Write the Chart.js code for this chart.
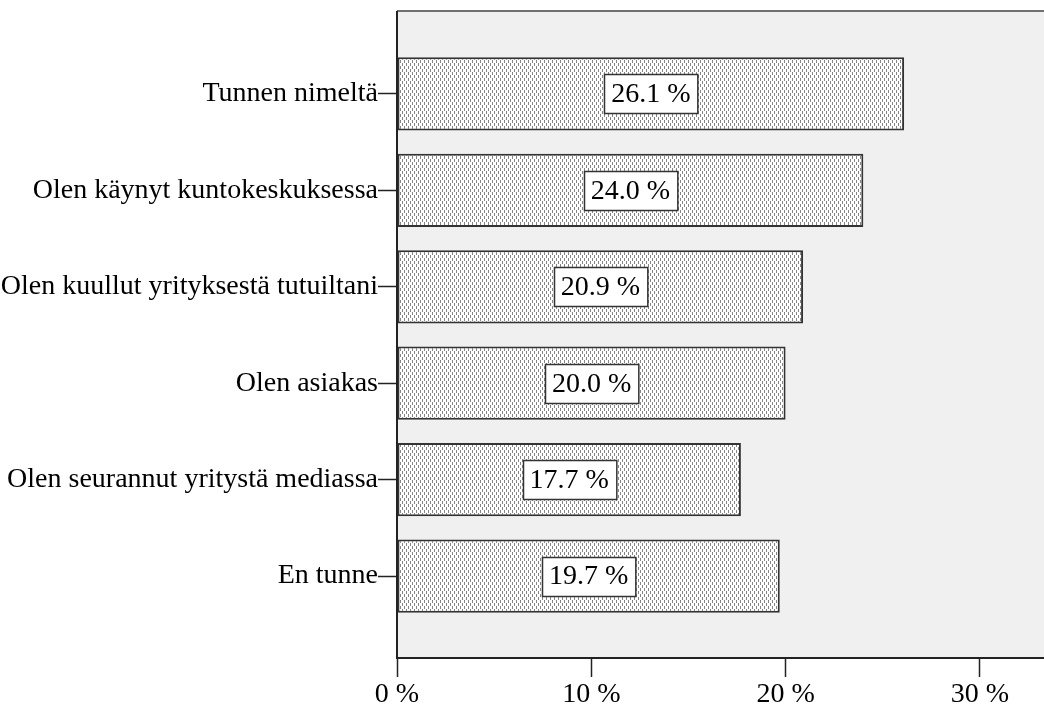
<!DOCTYPE html>
<html>
<head>
<meta charset="utf-8">
<script src="https://cdn.jsdelivr.net/npm/chart.js@4"></script>
<style>
  html, body { margin: 0; padding: 0; background: #fff; }
  #chart { display: block; }
</style>
</head>
<body>
<canvas id="chart" width="1044" height="709"></canvas>
<script>
// --- data ---
const categories = [
    'Tunnen nimeltä',
    'Olen käynyt kuntokeskuksessa',
    'Olen kuullut yrityksestä tutuiltani',
    'Olen asiakas',
    'Olen seurannut yritystä mediassa',
    'En tunne'
];
const percents = [26.1, 24.0, 20.9, 20.0, 17.7, 19.7];
const xTicks = [0, 10, 20, 30];

const FONT = 'Liberation Serif, Times New Roman, serif';

// dotted fill like the SPSS pattern
const makePattern = (ctx) => {
    const tile = document.createElement('canvas');
    tile.width = 4;
    tile.height = 6;
    const t = tile.getContext('2d');
    t.fillStyle = '#ffffff';
    t.fillRect(0, 0, 4, 6);
    t.fillStyle = '#858585';
    t.fillRect(0, 0, 1, 3);
    t.fillRect(2, 3, 1, 3);
    return ctx.createPattern(tile, 'repeat');
};

// grey plot background + top frame line
const plotBackground = {
    id: 'plotBackground',
    beforeDraw(chart) {
        const { ctx, chartArea: a } = chart;
        ctx.save();
        ctx.fillStyle = '#f0f0f0';
        ctx.fillRect(a.left, a.top, a.right - a.left, a.bottom - a.top);
        ctx.strokeStyle = '#707070';
        ctx.lineWidth = 2;
        ctx.beginPath();
        ctx.moveTo(a.left, a.top - 1);
        ctx.lineTo(a.right, a.top - 1);
        ctx.stroke();
        ctx.restore();
    }
};

// white boxed value labels in the middle of each bar
const valueBoxes = {
    id: 'valueBoxes',
    afterDatasetsDraw(chart) {
        const { ctx } = chart;
        const meta = chart.getDatasetMeta(0);
        ctx.save();
        ctx.font = '28px ' + FONT;
        ctx.textAlign = 'center';
        ctx.textBaseline = 'middle';
        meta.data.forEach((bar, i) => {
            const text = percents[i].toFixed(1) + ' %';
            const cx = (bar.base + bar.x) / 2;
            const w = ctx.measureText(text).width + 14;
            const h = 39;
            const x0 = Math.round(cx - w / 2) + 0.5;
            const y0 = Math.round(bar.y - h / 2) + 0.5;
            ctx.fillStyle = '#ffffff';
            ctx.fillRect(x0, y0, w, h);
            ctx.strokeStyle = '#333333';
            ctx.lineWidth = 1.5;
            ctx.strokeRect(x0, y0, w, h);
            ctx.fillStyle = '#000000';
            ctx.fillText(text, cx, bar.y + 1);
        });
        ctx.restore();
    }
};

const canvas = document.getElementById('chart');
const ctx = canvas.getContext('2d');

new Chart(ctx, {
    type: 'bar',
    data: {
        datasets: [{
            data: percents.map((v, i) => ({ x: v, y: i })),
            backgroundColor: makePattern(ctx),
            borderColor: '#333333',
            borderWidth: 2,
            borderSkipped: false,
            categoryPercentage: 0.8,
            barPercentage: 0.95
        }]
    },
    options: {
        indexAxis: 'y',
        responsive: false,
        animation: false,
        layout: { padding: { top: 12, right: 0, bottom: 0, left: 0 } },
        plugins: {
            legend: { display: false },
            tooltip: { enabled: false }
        },
        scales: {
            x: {
                type: 'linear',
                min: 0,
                max: 33.3,
                afterBuildTicks: (scale) => { scale.ticks = xTicks.map(v => ({ value: v })); },
                afterFit: (scale) => {
                    scale.height = 51;
                    scale.paddingLeft = 0;
                    scale.paddingRight = 0;
                },
                grid: { drawOnChartArea: false, drawTicks: true, tickLength: 19, tickColor: '#222', tickWidth: 1.5 },
                border: { color: '#222', width: 2 },
                ticks: {
                    callback: (v) => v + ' %',
                    color: '#000',
                    padding: 1,
                    maxRotation: 0,
                    font: { family: FONT, size: 28 }
                }
            },
            y: {
                type: 'linear',
                reverse: true,
                offset: false,
                min: -0.85,
                max: categories.length - 1 + 0.85,
                afterBuildTicks: (scale) => { scale.ticks = categories.map((c, i) => ({ value: i })); },
                afterFit: (scale) => {
                    scale.width = 397;
                    scale.paddingTop = 0;
                    scale.paddingBottom = 0;
                },
                grid: { offset: false, drawOnChartArea: false, drawTicks: true, tickLength: 19, tickColor: '#222', tickWidth: 1.5 },
                border: { color: '#222', width: 2 },
                ticks: {
                    callback: (v) => categories[v],
                    color: '#000',
                    padding: 0,
                    font: { family: FONT, size: 28 }
                }
            }
        }
    },
    plugins: [plotBackground, valueBoxes]
});
</script>
</body>
</html>
